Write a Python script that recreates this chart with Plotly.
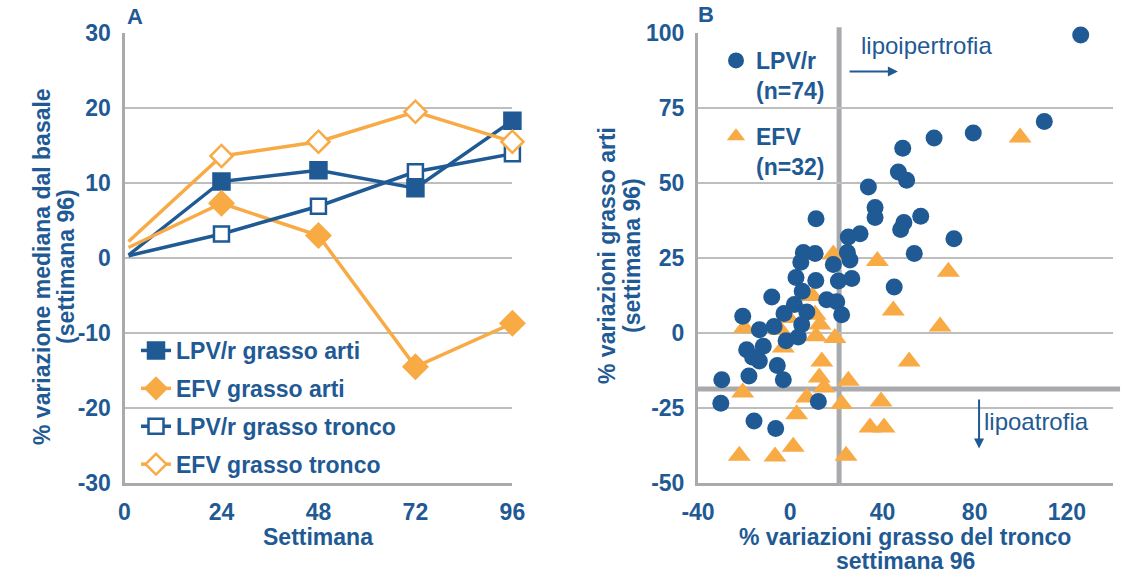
import plotly.graph_objects as go

W, H = 1139, 574

NAVY = "#1F5A94"
ORANGE = "#F8AA45"
GRID = "#BEBEBE"
AXIS = "#A9AAAD"
FONT = "Liberation Sans, Arial, sans-serif"

# ---- Panel A: median % change from baseline by week ----
weeks = [1, 24, 48, 72, 96]
week_ticks = [0, 24, 48, 72, 96]
pct_ticks_a = [-30, -20, -10, 0, 10, 20, 30]
lpv_limb = [0.4, 10.2, 11.7, 9.3, 18.3]
efv_limb = [1.4, 7.3, 3.0, -14.5, -8.7]
lpv_trunk = [0.3, 3.2, 6.9, 11.5, 13.9]
efv_trunk = [2.2, 13.6, 15.5, 19.5, 15.5]

# ---- Panel B: per-patient trunk vs limb fat change at week 96 ----
trunk_ticks_b = [-40, 0, 40, 80, 120]
limb_ticks_b = [-50, -25, 0, 25, 50, 75, 100]
lpv_trunk_chg = [126.0, 110.2, 62.4, 79.4, 48.8, 46.9, 50.5, 33.9, 36.8, 36.8,
                 56.6, 49.3, 47.9, 71.0, 11.2, 25.2, 30.3, 24.8, 25.9, 53.8,
                 45.1, 5.7, 10.8, 4.6, 18.7, 2.5, 11.1, 20.9, 26.7, 5.2,
                 15.8, 20.2, 22.3, 1.8, 7.2, -2.7, -8.0, -20.6, -13.4, -7.0,
                 5.0, -1.8, 3.5, -18.9, -11.7, -16.3, -13.4, -5.6, -3.0, -17.9,
                 -29.7, -30.1, -15.7, -6.3, 12.2]
lpv_limb_chg = [99.3, 70.5, 65.0, 66.7, 61.6, 53.7, 50.9, 48.7, 41.8, 38.5,
                38.9, 36.8, 34.5, 31.4, 38.1, 32.0, 33.1, 26.8, 24.3, 26.5,
                15.3, 26.8, 26.5, 23.6, 22.8, 18.5, 17.5, 17.3, 18.2, 13.9,
                11.1, 10.4, 6.1, 9.5, 7.0, 6.5, 12.0, 5.6, 1.1, 2.2,
                2.8, -2.6, -1.3, -5.6, -4.4, -8.1, -9.3, -10.8, -15.6, -14.3,
                -15.6, -23.4, -29.3, -31.8, -22.8]
efv_trunk_chg = [99.7, 37.8, 68.6, 18.7, 44.7, 65.0, -19.9, 9.6, 10.8, 12.9,
                 11.2, 19.4, -4.4, -0.8, -3.0, 13.7, 51.6, 12.6, 14.7, 25.2,
                 -20.6, 7.2, 22.3, 39.4, 2.8, 34.6, 40.7, 1.3, -22.1, -6.6,
                 24.2]
efv_limb_chg = [65.2, 24.0, 20.4, 26.2, 7.5, 2.2, 1.7, 12.3, 6.1, 2.8,
                -1.1, -1.7, 1.1, 5.0, -4.8, -9.5, -9.5, -14.8, -18.2, -15.9,
                -19.8, -21.5, -23.7, -22.8, -27.1, -31.5, -31.5, -37.9, -40.9, -41.2,
                -40.9]

trunk_cut = 21.2   # vertical reference (trunk change)
limb_cut = -18.7   # horizontal reference (limb change)


def px(x):
    return x / W


def py(y):
    return 1 - y / H


def tick_text(vals):
    # plain hyphen-minus for negative labels
    return [str(v) for v in vals]


bold = dict(family=FONT, size=23, color=NAVY, weight="bold")

fig = go.Figure()

# Panel A lines: baseline segment without marker, then marked weekly points
series_a = [
    ("LPV/r grasso arti", lpv_limb, NAVY, "square", NAVY, 16),
    ("EFV grasso arti", efv_limb, ORANGE, "diamond", ORANGE, 18),
    ("LPV/r grasso tronco", lpv_trunk, NAVY, "square", "white", 15),
    ("EFV grasso tronco", efv_trunk, ORANGE, "diamond", "white", 17),
]
for i, (name, vals, col, sym, fill, size) in enumerate(series_a):
    fig.add_trace(go.Scatter(
        x=weeks[:2], y=vals[:2], mode="lines",
        line=dict(color=col, width=3.5), showlegend=False,
        hoverinfo="skip", xaxis="x", yaxis="y"))
    fig.add_trace(go.Scatter(
        x=weeks[1:], y=vals[1:], mode="lines+markers", name=name,
        line=dict(color=col, width=3.5),
        marker=dict(symbol=sym, size=size, color=fill,
                    line=dict(color=col, width=2.5)),
        cliponaxis=False, legend="legend", legendgroup=f"a{i}",
        xaxis="x", yaxis="y"))

# Panel B scatter (triangles under circles)
fig.add_trace(go.Scatter(
    x=efv_trunk_chg, y=efv_limb_chg, mode="markers", name="EFV<br>(n=32)",
    marker=dict(symbol="triangle-up", size=20, color=ORANGE),
    cliponaxis=False, legend="legend2", legendgroup="b2", legendrank=2,
    xaxis="x2", yaxis="y2"))
fig.add_trace(go.Scatter(
    x=lpv_trunk_chg, y=lpv_limb_chg, mode="markers", name="LPV/r<br>(n=74)",
    marker=dict(symbol="circle", size=17, color=NAVY),
    cliponaxis=False, legend="legend2", legendgroup="b1", legendrank=1,
    xaxis="x2", yaxis="y2"))

# Reference lines in panel B
fig.add_shape(type="line", xref="x2", yref="y2 domain", x0=trunk_cut, x1=trunk_cut,
              y0=0, y1=1.013, line=dict(color=AXIS, width=5), layer="below")
fig.add_shape(type="line", xref="x2 domain", yref="y2", x0=0, x1=1.017,
              y0=limb_cut, y1=limb_cut, line=dict(color=AXIS, width=5), layer="below")

axis_common = dict(showline=True, linecolor=AXIS, linewidth=3, zeroline=False,
                   ticks="", tickfont=bold, fixedrange=True, automargin=False)

ydom = [py(483), py(33)]
fig.update_layout(
    width=W, height=H,
    margin=dict(l=0, r=0, t=0, b=0, pad=0, autoexpand=False),
    paper_bgcolor="white", plot_bgcolor="white",
    font=dict(family=FONT, color=NAVY),
    xaxis=dict(domain=[px(124.5), px(512.4)], range=[0, 96], tickvals=week_ticks,
               ticktext=tick_text(week_ticks), showgrid=False, anchor="y",
               ticklabelstandoff=6, **axis_common),
    yaxis=dict(domain=ydom, range=[-30, 30], tickvals=pct_ticks_a,
               ticktext=tick_text(pct_ticks_a), showgrid=True,
               gridcolor=GRID, gridwidth=1.5, anchor="x", ticklabelstandoff=6,
               **axis_common),
    xaxis2=dict(domain=[px(698), px(1113)], range=[-40, 140],
                tickvals=trunk_ticks_b, ticktext=tick_text(trunk_ticks_b),
                showgrid=False, anchor="y2", ticklabelstandoff=6, **axis_common),
    yaxis2=dict(domain=ydom, range=[-50, 100], tickvals=limb_ticks_b,
                ticktext=tick_text(limb_ticks_b), showgrid=True,
                gridcolor=GRID, gridwidth=1.5, anchor="x2", ticklabelstandoff=6,
                **axis_common),
    legend=dict(x=px(136), y=py(329), xanchor="left", yanchor="top",
                bgcolor="rgba(0,0,0,0)", font=bold, traceorder="grouped",
                tracegroupgap=5, itemclick=False, itemdoubleclick=False),
    legend2=dict(x=px(716), y=py(39), xanchor="left", yanchor="top",
                 bgcolor="rgba(0,0,0,0)", font=bold, traceorder="grouped",
                 tracegroupgap=13, valign="top", itemclick=False,
                 itemdoubleclick=False),
)

ann = []


def label(text, x, y, angle=0, font=bold):
    ann.append(dict(text=text, x=px(x), y=py(y), xref="paper", yref="paper",
                    showarrow=False, textangle=angle, font=font,
                    xanchor="center", yanchor="middle"))


label("A", 135, 17, font=dict(bold, size=22))
label("B", 706, 14, font=dict(bold, size=22))
label("% variazione mediana dal basale", 42, 267, -90)
label("(settimana 96)", 66, 267, -90)
label("Settimana", 318, 537)
label("% variazioni grasso arti", 607, 256, -90)
label("(settimana 96)", 632, 256, -90)
label("% variazioni grasso del tronco", 905, 537)
label("settimana 96", 905, 561)

regular = dict(family=FONT, size=24, color=NAVY)
ann.append(dict(text="lipoipertrofia", x=58.9, y=95.7, xref="x2", yref="y2",
                showarrow=False, font=regular))
ann.append(dict(text="", x=46.7, y=87.2, ax=25.1, ay=87.2, xref="x2", yref="y2",
                axref="x2", ayref="y2", showarrow=True, arrowhead=2,
                arrowsize=1, arrowwidth=2, arrowcolor=NAVY))
ann.append(dict(text="lipoatrofia", x=106.8, y=-29.4, xref="x2", yref="y2",
                showarrow=False, font=regular))
ann.append(dict(text="", x=81.9, y=-38.5, ax=81.9, ay=-21.7, xref="x2", yref="y2",
                axref="x2", ayref="y2", showarrow=True, arrowhead=2,
                arrowsize=1, arrowwidth=2, arrowcolor=NAVY))

fig.update_layout(annotations=ann)

fig.write_html("out.html")
